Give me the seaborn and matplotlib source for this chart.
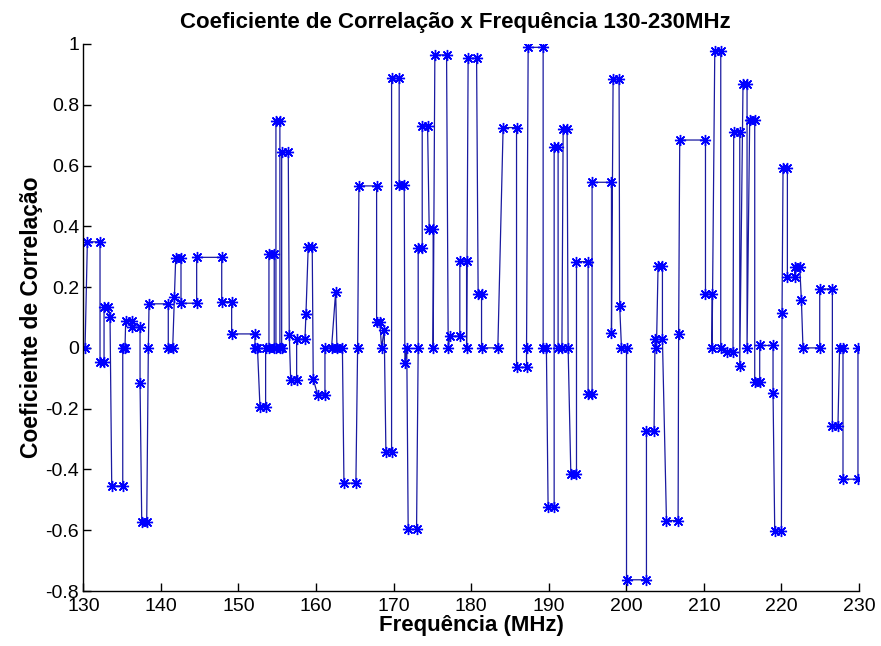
import matplotlib
matplotlib.use("Agg")
import matplotlib.pyplot as plt
import seaborn as sns
import pandas as pd

# Path of the plotted curve (frequency in MHz, correlation coefficient), in drawing order
freq = [130.22, 130.52, 132.15, 132.15, 132.67, 132.67, 133.22, 133.44, 133.66, 135.08,
        135.08, 135.37, 135.46, 136.24, 136.24, 137.31, 137.31, 137.53, 138.17, 138.38,
        138.47, 140.95, 140.95, 141.52, 141.73, 141.91, 142.59, 142.59, 144.61, 144.61,
        147.84, 147.84, 149.12, 149.12, 152.13, 152.13, 152.45, 152.77, 153.50, 153.50,
        153.93, 153.93, 154.61, 154.61, 154.83, 154.83, 155.34, 155.34, 155.57, 155.57,
        156.42, 156.55, 156.73, 157.50, 157.50, 158.57, 158.70, 158.99, 159.51, 159.64,
        160.21, 161.15, 161.15, 162.00, 162.53, 162.70, 163.40, 163.60, 165.14, 165.36,
        165.53, 167.81, 167.81, 168.23, 168.45, 168.79, 169.01, 169.74, 169.74, 170.72,
        170.72, 171.37, 171.46, 171.70, 171.88, 172.96, 173.17, 173.17, 173.69, 173.69,
        174.38, 174.59, 175.10, 175.10, 175.32, 176.83, 177.04, 177.25, 178.54, 178.54,
        179.41, 179.41, 179.61, 180.70, 180.90, 181.34, 181.34, 183.44, 184.12, 185.85,
        185.85, 187.14, 187.14, 187.35, 189.28, 189.28, 189.70, 189.92, 190.70, 190.70,
        191.21, 191.21, 191.70, 191.86, 192.37, 192.50, 192.85, 193.58, 193.58, 195.08,
        195.08, 195.59, 195.59, 198.09, 198.09, 198.30, 199.07, 199.15, 199.38, 200.03,
        200.03, 202.60, 202.60, 203.58, 203.70, 203.89, 204.10, 204.66, 204.66, 205.18,
        206.68, 206.75, 206.89, 210.21, 210.21, 211.06, 211.06, 211.41, 212.18, 212.18,
        212.99, 213.76, 213.85, 214.63, 214.63, 215.05, 215.57, 215.57, 215.91, 216.56,
        216.56, 217.20, 217.20, 218.92, 218.92, 219.14, 220.00, 220.08, 220.21, 220.77,
        220.77, 221.71, 221.71, 222.36, 222.58, 222.78, 224.94, 224.94, 226.57, 226.57,
        227.29, 227.50, 227.94, 227.94, 229.87, 229.87]

coef = [0.0, 0.349, 0.349, -0.048, -0.048, 0.136, 0.136, 0.103, -0.454, -0.454,
        0.0, 0.0, 0.09, 0.09, 0.068, 0.068, -0.116, -0.573, -0.573, 0.0,
        0.145, 0.145, 0.0, 0.0, 0.166, 0.297, 0.297, 0.147, 0.147, 0.298,
        0.298, 0.152, 0.152, 0.046, 0.046, 0.0, 0.0, -0.193, -0.193, 0.0,
        0.0, 0.309, 0.309, 0.0, 0.0, 0.748, 0.748, 0.0, 0.0, 0.644,
        0.644, 0.043, -0.107, -0.107, 0.029, 0.029, 0.111, 0.331, 0.331, -0.102,
        -0.155, -0.155, 0.0, 0.0, 0.185, 0.0, 0.0, -0.445, -0.445, 0.0,
        0.533, 0.533, 0.084, 0.084, 0.0, 0.059, -0.343, -0.343, 0.887, 0.887,
        0.536, 0.536, -0.05, 0.0, -0.597, -0.597, 0.0, 0.328, 0.328, 0.731,
        0.731, 0.39, 0.39, 0.0, 0.964, 0.964, 0.0, 0.039, 0.039, 0.286,
        0.286, 0.0, 0.953, 0.953, 0.177, 0.177, 0.0, 0.0, 0.725, 0.725,
        -0.064, -0.064, 0.0, 0.989, 0.989, 0.0, 0.0, -0.524, -0.524, 0.662,
        0.662, 0.0, 0.0, 0.719, 0.719, 0.0, -0.414, -0.414, 0.284, 0.284,
        -0.151, -0.151, 0.545, 0.545, 0.048, 0.884, 0.884, 0.138, 0.0, 0.0,
        -0.763, -0.763, -0.273, -0.273, 0.029, 0.0, 0.271, 0.271, 0.029, -0.568,
        -0.568, 0.046, 0.684, 0.684, 0.177, 0.177, 0.0, 0.978, 0.978, 0.0,
        -0.012, -0.012, 0.712, 0.712, -0.061, 0.868, 0.868, 0.0, 0.75, 0.75,
        -0.113, -0.113, 0.008, 0.008, -0.147, -0.604, -0.604, 0.116, 0.593, 0.593,
        0.232, 0.232, 0.267, 0.267, 0.156, 0.0, 0.0, 0.194, 0.194, -0.257,
        -0.257, 0.0, 0.0, -0.432, -0.432, 0.0]

xticks = [130, 140, 150, 160, 170, 180, 190, 200, 210, 220, 230]
yticks = [-0.8, -0.6, -0.4, -0.2, 0, 0.2, 0.4, 0.6, 0.8, 1]
ytick_labels = ["-0.8", "-0.6", "-0.4", "-0.2", "0", "0.2", "0.4", "0.6", "0.8", "1"]

title = "Coeficiente de Correlação x Frequência 130-230MHz"
xlabel = "Frequência (MHz)"
ylabel = "Coeficiente de Correlação"

df = pd.DataFrame({"freq": freq, "coef": coef})

sns.set_theme(style="white")
plt.rcParams["font.family"] = ["Liberation Sans", "DejaVu Sans"]
plt.rcParams["text.color"] = "black"
plt.rcParams["axes.labelcolor"] = "black"

fig = plt.figure(figsize=(8.81, 6.46), dpi=100)
ax = fig.add_axes([0.0946, 0.0851, 0.8804, 0.8468])

sns.lineplot(data=df, x="freq", y="coef", sort=False, estimator=None, ax=ax,
             color="#1a1aa0", linewidth=0.9, marker=(8, 2, 0), markersize=8,
             markeredgecolor="#0000ff", markerfacecolor="#0000ff", markeredgewidth=1.0)

ax.set_xlim(130, 230)
ax.set_ylim(-0.8, 1.0)
ax.set_xticks(xticks)
ax.set_xticklabels([str(t) for t in xticks])
ax.set_yticks(yticks)
ax.set_yticklabels(ytick_labels)
ax.tick_params(direction="in", length=6, width=1, colors="black", labelsize=14,
               left=True, bottom=True)
ax.tick_params(axis="x", pad=5)
ax.tick_params(axis="y", pad=3)
for s in ["top", "right"]:
    ax.spines[s].set_visible(False)
for s in ["left", "bottom"]:
    ax.spines[s].set_color("black")
    ax.spines[s].set_linewidth(1.0)

ax.set_xlabel(xlabel, fontsize=16, fontweight="bold", labelpad=0, color="black")
ax.set_ylabel(ylabel, fontsize=16.5, fontweight="bold", labelpad=2, color="black")
ax.text(0.48, 1.02, title, transform=ax.transAxes, ha="center", va="bottom",
        fontsize=16, fontweight="bold", color="black")

fig.savefig("out.png", dpi=100, facecolor="white")
